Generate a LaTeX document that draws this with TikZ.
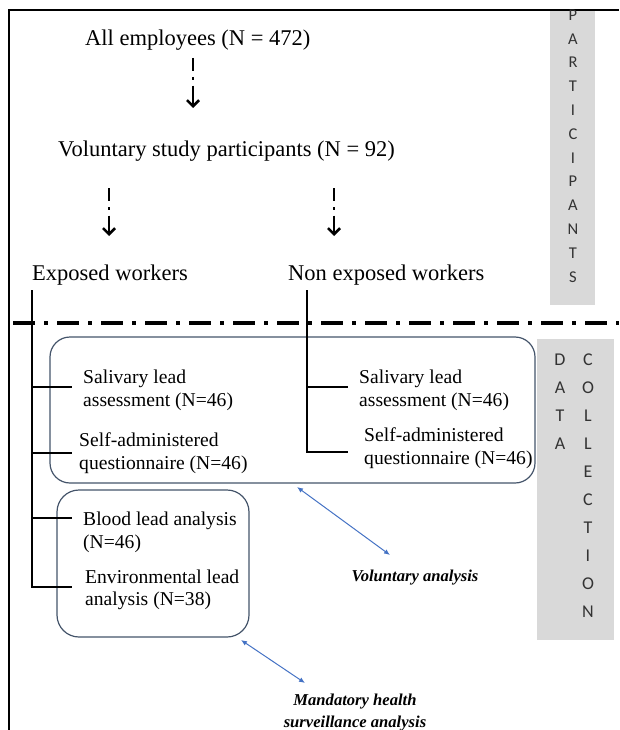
\documentclass[tikz,border=0pt]{standalone}
\usepackage{fontspec}
\setmainfont{Liberation Serif}
\newfontfamily\calib{Carlito}
\usetikzlibrary{arrows.meta}
\definecolor{boxline}{RGB}{68,84,106}
\definecolor{arrblue}{RGB}{68,114,196}
\definecolor{panelgray}{RGB}{217,217,217}
\begin{document}
\begin{tikzpicture}[x=1pt,y=-1pt,
  big/.style={font=\fontsize{22.5}{27}\selectfont, inner sep=0pt, anchor=base west},
  mid/.style={font=\fontsize{19.6}{23}\selectfont, inner sep=0pt, anchor=base west},
  note/.style={font=\fontsize{16.6}{22}\selectfont\bfseries\itshape, inner sep=0pt, anchor=base},
  letter/.style={font=\calib\fontsize{16.5}{16.5}\selectfont, inner sep=0pt, anchor=base, text=black!80},
  bigletter/.style={letter, font=\calib\fontsize{18}{18}\selectfont},
  frameline/.style={line width=2pt},
  tree/.style={line width=2.5pt},
  dasharr/.style={line width=2.6pt, dash pattern=on 13pt off 6pt on 2.6pt off 6pt on 30pt,
    -{Straight Barb[length=6pt,width=12pt,line width=2.6pt]}},
  rbox/.style={draw=boxline, line width=1.2pt, inner sep=0pt},
  panel/.style={fill=panelgray, inner sep=0pt},
  blue2/.style={draw=arrblue, line width=1pt, {Latex[length=6pt,width=5pt]}-{Latex[length=6pt,width=5pt]}}
]
\useasboundingbox (0,0) rectangle (619,730);

% frame
\draw[frameline] (9,730) -- (9,10) -- (619,10);

% gray panels
\node[panel, minimum width=45pt, minimum height=294pt] (partpanel) at (572.5,158) {};
\node[panel, minimum width=77pt, minimum height=301pt] (datapanel) at (575.5,489.5) {};

\foreach \l [count=\i from 0] in {P,A,R,T,I,C,I,P,A,N,T,S}
  \node[letter] (pl\i) at (573,{20.3+\i*23.8}) {\l};
\foreach \l [count=\i from 0] in {D,A,T,A}
  \node[bigletter] (dl\i) at (560,{365.8+\i*28}) {\l};
\foreach \l [count=\i from 0] in {C,O,L,L,E,C,T,I,O,N}
  \node[bigletter] (cl\i) at (588,{365.8+\i*28}) {\l};

% top texts
\node[big] (all) at (85,46) {All employees (N = 472)};
\node[big] (vol) at (58,157) {Voluntary study participants (N = 92)};
\node[big] (exp) at (32,280) {Exposed workers};
\node[big] (nonexp) at (288,280) {Non exposed workers};

% dotted arrows
\coordinate (a1s) at (193,58);  \coordinate (a1e) at (193,108);
\coordinate (a2s) at (109,188); \coordinate (a2e) at (109,236);
\coordinate (a3s) at (334,188); \coordinate (a3e) at (334,236);
\draw[dasharr] (a1s) -- (a1e);
\draw[dasharr] (a2s) -- (a2e);
\draw[dasharr] (a3s) -- (a3e);

% separator
\coordinate (sepL) at (13,323); \coordinate (sepR) at (619,323);
\draw[line width=4pt, dash pattern=on 22pt off 9pt on 4pt off 9pt] (sepL) -- (sepR);

% rounded boxes
\node[rbox, rounded corners=20pt, minimum width=485pt, minimum height=146pt] (box1) at (292.5,410) {};
\node[rbox, rounded corners=22pt, minimum width=192pt, minimum height=147pt] (box2) at (153,563.5) {};

% left texts
\node[mid] (ls1) at (83,383) {Salivary lead};
\node[mid] (ls2) at (83,406) {assessment (N=46)};
\node[mid] (lq1) at (79,446) {Self-administered};
\node[mid] (lq2) at (79,469) {questionnaire (N=46)};
\node[mid] (lb1) at (83,525) {Blood lead analysis};
\node[mid] (lb2) at (83,548) {(N=46)};
\node[mid] (le1) at (85,583) {Environmental lead};
\node[mid] (le2) at (85,605) {analysis (N=38)};
% right texts
\node[mid] (rs1) at (359,383) {Salivary lead};
\node[mid] (rs2) at (359,406) {assessment (N=46)};
\node[mid] (rq1) at (364,441) {Self-administered};
\node[mid] (rq2) at (364,464) {questionnaire (N=46)};

% tree lines
\coordinate (et) at (32,290); \coordinate (nt) at (307,290);
\coordinate (e1) at (72,387); \coordinate (e2) at (72,453);
\coordinate (e3) at (72,518); \coordinate (e4) at (72,587);
\coordinate (n1) at (348,387); \coordinate (n2) at (348,452);
\draw[tree] (et) -- (et |- e4) -- (e4);
\draw[tree] (et |- e1) -- (e1);
\draw[tree] (et |- e2) -- (e2);
\draw[tree] (et |- e3) -- (e3);
\draw[tree] (nt) -- (nt |- n2) -- (n2);
\draw[tree] (nt |- n1) -- (n1);

% notes
\node[note] (vnote) at (415,581) {Voluntary analysis};
\node[note] (mnote1) at (355,705) {Mandatory health};
\node[note] (mnote2) at (355,727) {surveillance analysis};

% blue arrows
\coordinate (b1s) at (297,487); \coordinate (b1e) at (390,555);
\coordinate (b2s) at (241,640); \coordinate (b2e) at (305,683);
\draw[blue2] (b1s) -- (b1e);
\draw[blue2] (b2s) -- (b2e);
\end{tikzpicture}
\end{document}
